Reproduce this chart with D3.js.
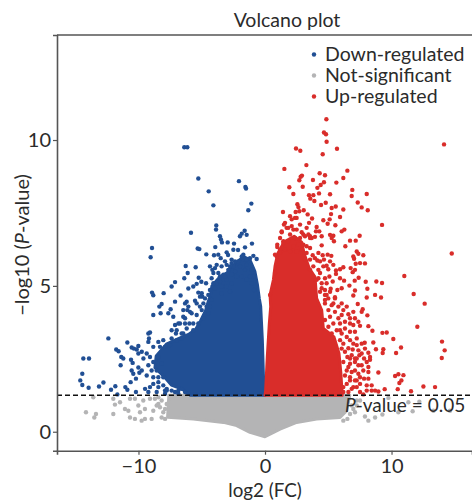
<!DOCTYPE html>
<html>
<head>
<meta charset="utf-8">
<script src="https://cdn.jsdelivr.net/npm/d3@7"></script>
<style>
  html, body { margin: 0; padding: 0; background: #fff; }
  svg { display: block; }
  text { font-family: Lato, "Open Sans", sans-serif; fill: #2b2b2b; }
</style>
</head>
<body>
<svg id="chart"></svg>
<script>
const X_TICKS = [-10, 0, 10];
const Y_TICKS = [0, 5, 10];
const X_DOMAIN = [-16.44, 16.36];
const Y_DOMAIN = [-0.65, 13.6];
const THRESHOLD = 1.25;
const LEGEND = ["Down-regulated", "Not-significant", "Up-regulated"];

// outlines of the overplotted cores, single points can't be read in there
const downCore = [[0,1.25],[-5.9,1.25],[-6.5,1.45],[-7.4,1.6],[-8.0,1.9],[-8.7,2.2],[-8.6,2.6],[-7.8,3.0],[-6.8,3.2],
  [-6.0,3.35],[-5.5,3.5],[-5.1,3.8],[-4.7,4.15],[-4.5,4.45],[-4.3,4.7],[-4.2,5.0],[-3.6,5.3],[-3.0,5.45],[-2.4,5.75],
  [-1.7,6.0],[-1.2,5.9],[-0.8,5.5],[-0.6,5.05],[-0.45,4.57],[-0.34,4.29],[-0.21,3.14],[-0.13,1.99],[-0.05,1.3]];
const upCore = [[0,1.25],[6.1,1.25],[6.0,1.99],[5.85,2.68],[5.45,3.25],[4.61,3.54],[4.48,4.17],[4.08,4.57],
  [3.95,5.3],[3.5,5.6],[3.1,6.1],[2.9,6.5],[2.3,6.7],[1.5,6.5],[1.0,6.1],[0.79,5.67],[0.66,5.2],[0.4,4.69],
  [0.45,4.29],[0.34,3.71],[0.18,2.56],[0.05,1.41]];
const nsCore = [[-7.6,1.25],[-7.7,0.5],[-5.67,0.44],[-3.29,0.32],[-2.24,0.21],[-1.19,-0.02],[0,-0.17],
  [1.19,0.09],[2.5,0.32],[4.08,0.44],[5.93,0.49],[6.46,0.72],[6.7,1.25]];

const downPts = [[-6.38,9.75],[-6.14,9.75],[-5.27,8.68],[-4.45,8.24],[-4.08,7.76],[-2.06,8.59],[-1.55,8.39],[-1.5,8.34],
  [-1.08,7.82],[-1.32,7.59],[-3.85,7.07],[-3.87,6.93],[-5.85,6.82],[-1.61,6.89],[-1.84,6.79],[-1.98,6.7],[-1.45,6.75],
  [-3.56,6.7],[-3.48,6.59],[-3.4,6.49],[-2.95,6.49],[-2.45,6.45],[-1.03,6.45],[-8.93,6.3],[-9.04,5.98],[-5.32,6.28],
  [-5.19,6.26],[-3.93,6.33],[-2.5,6.24],[-2.13,6.23],[-1.58,6.32],[-4.64,6.08],[-4.03,6.05],[-3.03,6.15],[-2.92,6.06],
  [-3.69,6.07],[-3.5,5.95],[-1.71,6.07],[-0.92,6.03],[-0.66,5.92],[-1.19,5.95],[-6.27,5.68],[-5.48,5.64],[-6.11,5.44],
  [-6.38,5.26],[-7.11,5.13],[-7.38,4.98],[-5.24,5.28],[-5.03,5.14],[-4.66,5.09],[-5.4,5.07],[-5.67,4.98],[-6.06,4.91],
  [-5.27,4.77],[-4.95,4.63],[-8.93,4.77],[-8.83,4.68],[-8.01,4.75],[-6.67,4.67],[-4.35,5.67],[-4.16,5.55],[-3.82,5.72],
  [-3.16,5.84],[-2.64,5.78],[-4.22,5.26],[-4.08,5.44],[-3.56,5.32],[-0.92,5.49],
  [-12.38,3.2],[-14.36,2.51],[-13.91,2.51],[-14.44,1.99],[-14.6,1.76],[-14.44,1.6],[-13.94,1.51],[-13.12,1.55],
  [-12.77,1.69],[-12.17,1.44],[-11.83,1.56],[-11.67,1.28],[-11.04,1.53],[-10.88,1.44],[-10.62,1.7],[-10.2,1.36],
  [-11.76,2.82],[-11.57,2.76],[-11.36,2.56],[-11.2,2.51],[-11.41,2.28],[-10.88,3.06],[-10.54,2.89],[-10.36,2.85],
  [-10.01,2.94],[-10.14,2.82],[-10.01,2.68],[-10.59,2.47],[-10.46,2.36],[-10.54,2.1],[-10.01,2.2],[-10.41,1.99],
  [-9.93,2.02],[-10.2,1.82],[-9.74,2.74],[-9.35,2.68],[-9.61,2.51],[-9.22,3.37],[-9.09,3.4],[-9.17,3.2],[-9.22,3.08],
  [-8.83,2.91],[-8.43,3.08],[-8.04,3.14],[-9.35,1.93],[-9.22,2.28],[-9.74,2.1],[-9.48,1.47],[-9.09,1.53],[-9.22,1.36],
  [-8.56,1.36],[-7.9,1.41],[-8.83,4.0],[-8.25,4.06],[-8.35,4.29],[-8.17,4.38],[-7.64,4.06],[-7.46,4.2],[-7.25,3.94],
  [-7.11,4.46],[-6.32,4.4],[-6.14,4.17],[-5.53,4.49],[-6.46,3.94],[-5.8,4.06],[-6.85,3.71],[-7.38,3.48],[-7.04,3.37],
  [-6.46,3.37],[-5.67,3.71],[-5.14,4.29],[-4.74,4.57],[-5.0,4.75],[-7.77,1.41],[-7.11,1.36],[-6.32,1.36],[-8.04,1.59],
  [-8.43,1.7],
  [-7.11,3.66],[-6.72,3.71],[-6.32,3.71],[-5.98,3.71],[-6.98,3.48],[-6.59,3.37],[-6.19,3.54],[-5.67,3.48],[-5.4,4.0],
  [-5.0,4.17],[-4.87,4.4],[-4.61,4.29],[-5.4,4.4],[-6.19,4.46],[-6.06,4.29],[-5.93,4.11],[-6.32,3.89],[-6.46,4.17],
  [-5.27,3.71],[-4.87,3.89],[-4.48,4.06],[-4.22,4.52],[-4.48,4.69],[-5.14,4.63],[-4.35,4.29],[-8.43,2.56],[-8.17,2.33],
  [-8.56,2.1],[-8.83,2.39],[-9.09,2.56],[-7.9,2.91],[-7.51,2.97],[-8.3,2.91],[-6.98,3.14],[-7.38,3.2],[-6.59,3.2],
  [-8.04,1.87],[-8.43,1.87],[-8.83,1.87],[-8.96,2.1],[-7.77,1.47],[-7.38,1.41],[-6.85,1.41],[-6.59,1.47],[-8.43,1.53],
  [-8.83,1.64],[-7.9,1.3],[-6.85,1.3],[-6.06,1.3],[-5.53,1.28],
  [-3.82,5.09],[-3.43,4.98],[-3.03,5.21],[-2.64,5.09],[-3.29,5.38],[-2.9,5.55],[-2.5,5.67],[-2.11,5.84],[-1.71,5.9],
  [-1.45,5.72],[-1.05,5.55],[-0.92,5.32],[-4.35,4.86],[-4.08,5.09],[-3.69,5.44],[-3.03,5.72],[-2.64,5.9],[-3.43,5.67],
  [-3.95,5.61],[-2.37,5.49],
  [-1.84,6.01],[-1.45,5.9],[-1.98,5.67],[-1.58,5.55],[-1.19,5.32],[-2.37,5.84],[-2.77,5.67],[-3.16,5.32],[-3.56,5.15],
  [-3.95,4.92],[-2.24,5.32],[-1.84,5.32],[-1.45,5.21],[-2.64,5.38],[-3.03,4.98],[-3.43,4.75],[-2.77,4.8],[-1.05,5.09],
  [-0.87,4.86]];

const upPts = [[4.85,10.71],[4.66,10.26],[4.82,10.2],[4.87,9.94],[14.15,9.85],[2.45,9.71],[2.79,9.63],[4.56,9.51],
  [5.69,9.7],[3.27,9.14],[1.53,9.01],[6.51,8.95],[4.32,8.86],[4.74,8.79],[2.92,8.78],[2.82,8.74],[2.71,8.62],[3.79,8.63],
  [6.19,8.7],[5.64,8.54],[4.66,8.55],[4.4,8.46],[4.14,8.36],[2.98,8.4],[1.92,8.38],[2.24,8.15],[6.9,8.29],[6.85,8.08],
  [8.04,8.15],[4.27,8.17],[3.48,8.11],[3.82,8.11],[3.58,7.99],[3.9,7.91],[5.14,8.14],[4.8,7.85],[4.43,7.77],[7.33,7.86],
  [7.64,7.69],[8.12,7.59],[5.59,7.72],[5.27,7.67],[6.19,7.62],[2.56,7.8],[2.64,7.7],[1.42,7.53],[2.42,7.53],[2.71,7.56],
  [3.06,7.59],[3.37,7.45],[5.22,7.46],[5.11,7.28],[4.61,7.25],[5.93,7.36],[3.72,7.31],[1.98,7.39],[2.37,7.33],[3.48,7.16],
  [4.95,7.13],[5.56,7.08],[9.25,7.09],[1.5,7.1],[4.08,7.02],[6.27,6.93],[6.06,6.87],[4.29,6.87],[4.03,6.87],[7.48,6.72],
  [5.14,6.75],[5.4,6.72],[4.48,6.7],[5.27,6.64],[5.45,6.53],[3.56,6.64],[3.95,6.68],[6.72,6.55],[7.17,6.55],[6.35,6.36],
  [4.48,6.39],[0.97,6.41],[0.97,6.33],[14.76,6.11],[7.25,6.18],[7.38,6.1],[7.77,6.05],[6.98,6.01],[7.04,5.93],[3.77,6.05],
  [4.56,6.05],[4.95,6.07],[5.24,6.03],[4.66,5.9],[5.14,5.84],[7.51,5.78],[7.9,5.77],[7.17,5.76],[4.14,5.87],[4.87,5.69],
  [5.4,5.72],[6.19,5.64],[5.93,5.57],[5.61,5.53],[6.77,5.61],[7.11,5.55],[6.93,5.47],[5.61,5.41],[5,5.57],[4.35,5.44],
  [4.74,5.26],[5.09,5.32],[5.35,5.15],[5.93,5.26],[6.25,5.18],[7.4,5.28],[7.09,5.18],[6.67,5.01],[7.96,5.14],[8.8,5.15],
  [9.25,5.1],[11.01,5.34],[8.09,4.9],[7.11,4.84],[6.06,4.92],[5.72,4.86],[5.19,4.9],[6.98,4.67],[8.7,4.69],[5.53,4.61],
  [8.04,4.6],[9.17,4.6],[11.75,4.72],[12.62,4.39],[7.33,4.38],[7.72,4.2],[7.64,4.11],[8.09,3.99],[6.98,4.11],[6.59,4.03],
  [6.72,3.89],[6.19,4.17],[5.8,4.29],[5.4,4.4],[4.74,4.4],[5.93,3.71],[6.32,3.54],[6.72,3.71],[7.51,3.63],[8.17,3.62],
  [8.49,3.46],[12.04,3.6],[9.28,3.39],[9.62,3.4],[7.11,3.43],[10.14,3.18],[7.88,3.05],[8.56,3.06],[13.99,3.09],[10.75,2.89],
  [14.2,2.79],[8.77,2.83],[9.35,2.83],[9.3,2.7],[10.36,2.7],[8.17,2.71],[6.59,2.86],[6.93,2.82],[7.38,2.79],[7.46,2.62],
  [7.11,2.51],[6.51,2.56],[5.93,3.14],[7.83,2.51],[8.3,2.47],[13.97,2.53],[6.72,2.33],[7.38,2.28],[8.17,2.22],[7.77,2.1],
  [8.17,2.05],[8.96,2.03],[6.85,2.05],[6.46,2.1],[10.28,1.91],[10.54,1.97],[10.94,1.94],[10.78,1.76],[10.62,1.67],
  [10.49,1.46],[7.83,1.82],[7.25,1.76],[6.72,1.76],[6.98,1.53],[7.51,1.64],[8.04,1.59],[8.43,1.59],[8.7,1.41],[8.96,1.38],
  [9.46,1.46],[8.04,1.41],[7.51,1.36],[6.59,1.36],[12.52,1.55],[13.44,1.53],[11.54,1.39],[7.77,1.28],
  [4.74,4.52],[5.27,4.34],[5.01,4.17],[5.53,4.11],[5.14,3.94],[4.74,3.83],[5.8,3.89],[5.4,3.71],[5.01,3.6],[6.06,4.0],
  [6.32,3.77],[5.67,3.48],[5.27,3.37],[6.06,3.37],[6.46,3.25],[6.19,3.02],[6.72,3.14],[6.06,2.85],[6.32,2.74],[6.85,2.62],
  [6.19,2.39],[6.59,2.22],[6.32,1.93],[6.72,1.87],[7.11,2.1],[6.46,1.64],[6.85,1.47],[7.25,1.53],[6.19,1.53],[7.38,1.99],
  [7.11,2.39],[7.64,2.28],[7.64,2.68],[6.19,1.36],[5.93,3.48],
  [1.32,6.87],[1.71,6.99],[2.11,7.05],[2.5,6.93],[2.9,6.84],[3.16,6.7],[1.45,6.53],[1.19,6.24],[0.92,6.01],[0.79,6.07],
  [3.29,6.36],[3.69,6.64],[3.56,5.9],[3.82,5.67],[4.22,5.55],[4.08,5.21],[4.48,5.09],[4.35,4.8],[4.74,4.69],[5.0,4.57],
  [0.66,4.98],[0.4,4.69],[0.79,5.44],[3.16,5.9],[3.56,5.55],[3.82,5.32],
  [2.11,7.28],[2.5,7.33],[1.58,7.16],[1.84,6.99],[2.24,6.93],[2.77,7.1],[3.29,6.99],[1.32,6.84],[1.98,6.76],[2.37,6.64],
  [2.77,6.64],[3.03,6.76],[3.56,6.7],[1.19,6.64],[1.45,6.47],[1.84,6.53],[2.24,6.36],[2.64,6.41],[3.03,6.41],[1.58,6.24],
  [1.98,6.18],[2.5,6.18],[2.9,6.24],[3.29,6.13],[3.43,6.76],[1.19,6.13],[3.56,6.3],[4.22,6.13],[3.95,5.95],[4.35,5.84],
  [4.61,5.67],[4.22,5.26],[4.48,4.92],[4.87,5.09],[5.14,4.8],[4.74,4.86],
  [4.87,4.69],[5.53,4.57],[6.06,4.4],[6.46,4.29],[7.11,3.89],[7.38,3.77],[6.98,3.66],[6.72,3.43],[7.25,3.2],[7.64,3.02],
  [7.25,2.97],[7.9,2.85],[6.98,3.02],[8.3,2.56],[8.04,2.39],[7.25,2.51],[6.72,2.51],[7.51,1.87],[7.11,1.76],[8.17,1.82],
  [8.43,1.41]];

const nsPts = [[-13.57,1.18],[-11.99,1.13],[-11.46,1.01],[-11.86,0.93],[-11.07,0.78],[-10.8,0.72],[-11.99,0.61],
  [-14.15,0.67],[-13.36,0.61],[-13.49,0.49],[-10.67,0.49],[-10.28,0.44],[-9.49,0.44],[-9.75,0.38],[-8.96,0.44],
  [-10.01,0.9],[-9.49,0.78],[-8.56,0.9],[-10.28,1.13],[-9.09,1.13],[-8.83,0.72],[-8.43,0.95],[-9.88,0.67],[-10.67,1.13],
  [-9.62,1.07],[-8.7,1.13],[-8.17,1.07],[-8.3,0.84],[-8.04,0.67],[-8.17,0.49],[-7.9,0.44],[-8.43,1.18],[-7.77,0.95],
  [-7.9,0.78],[7.11,0.67],[7.9,0.52],[8.7,0.49],[8.17,0.38],[9.28,0.59],[10.54,0.67],[9.75,1.16],[11.67,0.7],
  [12.2,1.03],[11.33,1.01],[14.62,0.72],[13.31,0.72],[6.51,0.44],[6.85,0.9],[7.25,1.07],[6.19,0.38],[6.72,0.61],[6.98,0.78],
  [7.25,0.9],[7.51,1.07]];

const W = 472, H = 502;
const BLUE = "#214f94", RED = "#d92d2a", GREY = "#b4b4b5", AXIS = "#555";

const svg = d3.select("#chart").attr("width", W).attr("height", H);

const x = d3.scaleLinear().domain(X_DOMAIN).range([57, 472]);
const y = d3.scaleLinear().domain(Y_DOMAIN).range([450.7, 35]);
const outline = d3.line().x(d => x(d[0])).y(d => y(d[1]));

function drawSeries(core, pts, color) {
  svg.append("path").attr("d", outline(core) + "Z").attr("fill", color)
    .attr("stroke", color).attr("stroke-width", 3).attr("stroke-linejoin", "round");
  svg.append("g").selectAll("circle").data(pts).join("circle")
    .attr("cx", d => x(d[0])).attr("cy", d => y(d[1])).attr("r", 2.2).attr("fill", color);
}

drawSeries(nsCore, nsPts, GREY);
drawSeries(downCore, downPts, BLUE);
drawSeries(upCore, upPts, RED);

svg.append("line")
  .attr("x1", 57).attr("x2", W).attr("y1", y(THRESHOLD)).attr("y2", y(THRESHOLD))
  .attr("stroke", "#111").attr("stroke-width", 1.4).attr("stroke-dasharray", "5 3");

const gx = svg.append("g").attr("transform", "translate(0," + y.range()[0] + ")")
  .call(d3.axisBottom(x).tickValues(X_TICKS).tickSize(4).tickFormat(d => d < 0 ? "\u2212" + (-d) : d));
const gy = svg.append("g").attr("transform", "translate(" + x.range()[0] + ",0)")
  .call(d3.axisLeft(y).tickValues(Y_TICKS).tickSize(4));
[gx, gy].forEach(g => {
  g.selectAll("path").attr("stroke", AXIS).attr("stroke-width", 1.6);
  g.selectAll("line").attr("stroke", AXIS).attr("stroke-width", 1.2);
  g.selectAll("text").style("font-family", "Lato").style("font-size", "20px").attr("fill", "#2b2b2b");
});
gy.selectAll("text").attr("x", -6);
gx.selectAll("text").attr("y", 8);

svg.append("line").attr("x1", 57).attr("x2", W).attr("y1", 35).attr("y2", 35)
  .attr("stroke", AXIS).attr("stroke-width", 1.6);

svg.append("text").attr("x", 287).attr("y", 27).attr("text-anchor", "middle")
  .style("font-size", "19.5px").text("Volcano plot");
svg.append("text").attr("x", 265).attr("y", 497).attr("text-anchor", "middle")
  .style("font-size", "18.8px").text("log2 (FC)");

const yLabel = svg.append("text").attr("transform", "translate(29,245) rotate(-90)")
  .attr("text-anchor", "middle").style("font-size", "20px");
yLabel.append("tspan").text("\u2212log10 (");
yLabel.append("tspan").style("font-style", "italic").text("P");
yLabel.append("tspan").text("-value)");

const pLabel = svg.append("text").attr("x", 345).attr("y", 412).style("font-size", "19px");
pLabel.append("tspan").style("font-style", "italic").text("P");
pLabel.append("tspan").text("-value = 0.05");

const legendColors = [BLUE, GREY, RED];
const lg = svg.append("g").selectAll("g").data(LEGEND).join("g")
  .attr("transform", (d, i) => "translate(314," + (54.5 + i * 21) + ")");
lg.append("circle").attr("r", 2.2).attr("fill", (d, i) => legendColors[i]);
lg.append("text").attr("x", 11).attr("y", 6.5).style("font-size", "19.5px").text(d => d);
</script>
</body>
</html>
